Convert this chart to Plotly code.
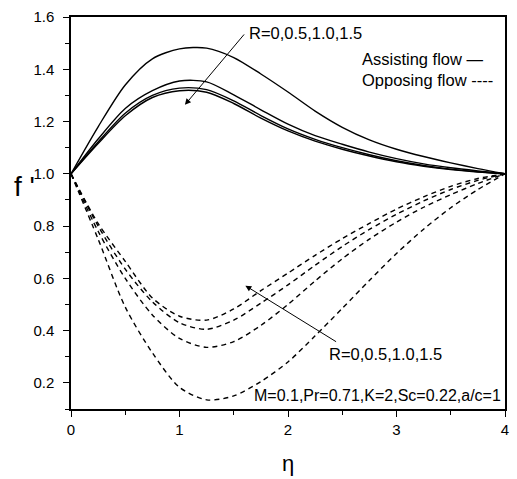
import plotly.graph_objects as go

# Similarity variable eta and velocity profiles f'(eta)
eta = [0, 0.25, 0.5, 0.75, 1.0, 1.25, 1.5, 1.75, 2.0, 2.25, 2.5, 2.75, 3.0, 3.25, 3.5, 3.75, 4.0]

# Assisting flow, R = 0, 0.5, 1.0, 1.5
assist_R0 = [1.0, 1.18, 1.34, 1.44, 1.478, 1.481, 1.445, 1.382, 1.313, 1.24, 1.178, 1.13, 1.094, 1.066, 1.042, 1.02, 1.0]
assist_R05 = [1.0, 1.133, 1.25, 1.318, 1.355, 1.352, 1.302, 1.245, 1.19, 1.146, 1.113, 1.083, 1.058, 1.038, 1.023, 1.011, 1.0]
assist_R10 = [1.0, 1.122, 1.232, 1.30, 1.328, 1.322, 1.279, 1.223, 1.172, 1.132, 1.10, 1.073, 1.050, 1.032, 1.018, 1.008, 1.0]
assist_R15 = [1.0, 1.116, 1.222, 1.292, 1.318, 1.312, 1.269, 1.213, 1.164, 1.125, 1.094, 1.068, 1.046, 1.029, 1.016, 1.007, 1.0]

# Opposing flow, R = 0, 0.5, 1.0, 1.5
oppose_1 = [1.0, 0.81, 0.665, 0.525, 0.455, 0.44, 0.483, 0.553, 0.62, 0.688, 0.752, 0.81, 0.865, 0.912, 0.952, 0.982, 1.0]
oppose_2 = [1.0, 0.80, 0.635, 0.51, 0.43, 0.405, 0.44, 0.505, 0.575, 0.65, 0.722, 0.787, 0.845, 0.896, 0.94, 0.975, 1.0]
oppose_3 = [1.0, 0.78, 0.60, 0.46, 0.37, 0.336, 0.358, 0.42, 0.50, 0.59, 0.675, 0.75, 0.815, 0.872, 0.92, 0.963, 1.0]
oppose_4 = [1.0, 0.75, 0.49, 0.315, 0.183, 0.135, 0.15, 0.205, 0.28, 0.38, 0.485, 0.592, 0.695, 0.788, 0.87, 0.94, 1.0]

x_ticks = [0, 1, 2, 3, 4]
y_ticks = [0.2, 0.4, 0.6, 0.8, 1.0, 1.2, 1.4, 1.6]
y_tick_text = ["0.2", "0.4", "0.6", "0.8", "1.0", "1.2", "1.4", "1.6"]

FONT = "Liberation Sans, Arial, sans-serif"

fig = go.Figure()

for ys in (assist_R0, assist_R05, assist_R10, assist_R15):
    fig.add_trace(go.Scatter(x=eta, y=ys, mode="lines",
                             line=dict(color="black", width=1.4, shape="spline", smoothing=0.8),
                             showlegend=False, hoverinfo="skip"))

for ys in (oppose_1, oppose_2, oppose_3, oppose_4):
    fig.add_trace(go.Scatter(x=eta, y=ys, mode="lines",
                             line=dict(color="black", width=1.4, dash="5px,4px",
                                       shape="spline", smoothing=0.8),
                             showlegend=False, hoverinfo="skip"))

annotations = [
    # arrows
    dict(x=1.05, y=1.264, ax=1.607, ay=1.539, xref="x", yref="y", axref="x", ayref="y",
         text="", showarrow=True, arrowhead=2, arrowsize=1.2, arrowwidth=1, arrowcolor="black"),
    dict(x=1.607, y=0.572, ax=2.457, ay=0.354, xref="x", yref="y", axref="x", ayref="y",
         text="", showarrow=True, arrowhead=2, arrowsize=1.2, arrowwidth=1, arrowcolor="black"),
    # labels
    dict(x=1.62, y=1.539, text="R=0,0.5,1.0,1.5", showarrow=False, xanchor="left", yanchor="middle",
         font=dict(size=16.5)),
    dict(x=2.66, y=1.439, text="Assisting flow —", showarrow=False, xanchor="left", yanchor="middle",
         font=dict(size=16.5)),
    dict(x=2.66, y=1.359, text="Opposing flow ----", showarrow=False, xanchor="left", yanchor="middle",
         font=dict(size=16.5)),
    dict(x=2.36, y=0.312, text="R=0,0.5,1.0,1.5", showarrow=False, xanchor="left", yanchor="middle",
         font=dict(size=16.5)),
    dict(x=1.665, y=0.151, text="M=0.1,Pr=0.71,K=2,Sc=0.22,a/c=1", showarrow=False,
         xanchor="left", yanchor="middle"),
    # axis titles
    dict(x=-0.108, y=0.568, xref="paper", yref="paper", text="f '", showarrow=False,
         font=dict(size=28, family=FONT, color="black"), xanchor="center", yanchor="middle"),
    dict(x=0.5, y=-0.14, xref="paper", yref="paper", text="η", showarrow=False,
         font=dict(size=22, family=FONT, color="black"), xanchor="center", yanchor="middle"),
]

fig.update_layout(
    width=517, height=479,
    margin=dict(l=71, r=8, t=16, b=70),
    paper_bgcolor="white", plot_bgcolor="white",
    font=dict(family=FONT, size=16, color="black"),
    annotations=annotations,
    showlegend=False,
)

fig.update_xaxes(
    range=[0, 4], tickvals=x_ticks, ticks="outside", ticklen=6, tickwidth=1.2,
    tickcolor="black", showline=True, linecolor="black", linewidth=1.5, mirror=True,
    showgrid=False, zeroline=False, tickfont=dict(size=15),
    minor=dict(dtick=0.5, ticks="outside", ticklen=4, tickwidth=1.2, tickcolor="black", showgrid=False),
)
fig.update_yaxes(
    range=[0.1, 1.6], tickvals=y_ticks, ticktext=y_tick_text, ticks="outside", ticklen=6,
    tickwidth=1.2, tickcolor="black", showline=True, linecolor="black", linewidth=1.5,
    mirror=True, showgrid=False, zeroline=False, tickfont=dict(size=15),
    ticklabelstandoff=6,
    minor=dict(tick0=0.1, dtick=0.1, ticks="outside", ticklen=4, tickwidth=1.2,
               tickcolor="black", showgrid=False),
)

fig.write_html("out.html")
